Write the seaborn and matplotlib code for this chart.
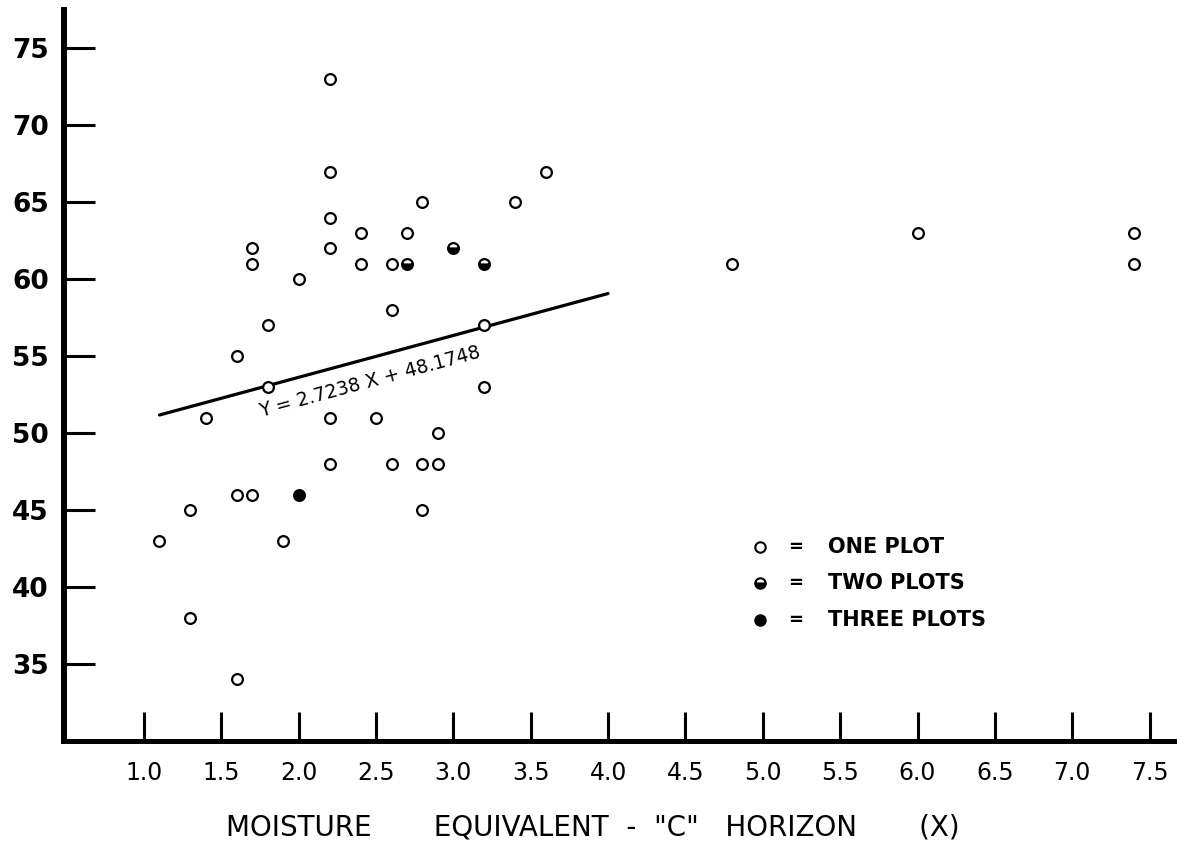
import math
import numpy as np
import matplotlib
matplotlib.use("Agg")
import matplotlib.pyplot as plt
import seaborn as sns

# Observations, grouped by how many plots share the same point
one_x = [2.2, 2.2, 3.6, 2.2, 2.8, 3.4, 2.4, 2.7, 1.7, 2.2,
         1.7, 2.4, 2.6, 2.0, 2.6, 1.8, 3.2, 1.6, 1.8, 3.2,
         1.4, 2.2, 2.5, 2.9, 2.2, 2.6, 2.8, 2.9, 1.6, 1.7,
         1.3, 2.8, 1.1, 1.9, 1.3, 1.6, 4.8, 6.0, 7.4, 7.4]
one_y = [73, 67, 67, 64, 65, 65, 63, 63, 62, 62,
         61, 61, 61, 60, 58, 57, 57, 55, 53, 53,
         51, 51, 51, 50, 48, 48, 48, 48, 46, 46,
         45, 45, 43, 43, 38, 34, 61, 63, 63, 61]
two_x = [2.7, 3.0, 3.2]
two_y = [61, 62, 61]
three_x = [2.0]
three_y = [46]

# Fitted regression line
slope = 2.7238
intercept = 48.1748
fit_x = [1.1, 4.0]

x_ticks = [1.0, 1.5, 2.0, 2.5, 3.0, 3.5, 4.0, 4.5, 5.0, 5.5, 6.0, 6.5, 7.0, 7.5]
y_ticks = [35, 40, 45, 50, 55, 60, 65, 70, 75]
x_label = 'MOISTURE       EQUIVALENT  -  "C"   HORIZON       (X)'
legend_labels = ["ONE PLOT", "TWO PLOTS", "THREE PLOTS"]

sns.set_style("ticks", {"axes.edgecolor": "black", "xtick.color": "black",
                        "ytick.color": "black", "text.color": "black",
                        "axes.labelcolor": "black"})
plt.rcParams["font.family"] = ["DejaVu Sans"]

fig = plt.figure(figsize=(11.77, 8.43), dpi=100)
ax = fig.add_axes([0.0544, 0.1214, 0.9456, 0.8667])
ax.set_xlim(0.483, 7.677)
ax.set_ylim(30, 77.5)

fit_y = [slope * x + intercept for x in fit_x]
sns.lineplot(x=fit_x, y=fit_y, ax=ax, color="black", linewidth=2.3, zorder=2)

ring = dict(s=60, linewidth=1.6, edgecolor="black", legend=False)
sns.scatterplot(x=one_x, y=one_y, ax=ax, color="white", zorder=3, **ring)
sns.scatterplot(x=three_x, y=three_y, ax=ax, color="black", zorder=3, **ring)
# Half-filled circles: lower half black
ax.plot(two_x, two_y, "o", ls="none", ms=7.75, fillstyle="bottom", mfc="black",
        markerfacecoloralt="white", mec="black", mew=1.6, zorder=4)

# Axes styling
sns.despine(ax=ax)
ax.spines["left"].set_linewidth(4.3)
ax.spines["bottom"].set_linewidth(3.6)
ax.set_xticks(x_ticks)
ax.set_xticklabels([f"{v:.1f}" for v in x_ticks])
ax.set_yticks(y_ticks)
ax.set_yticklabels([str(v) for v in y_ticks])
ax.tick_params(axis="x", direction="in", length=21, width=2.2, pad=15, labelsize=17)
ax.tick_params(axis="y", direction="in", length=22, width=2.2, pad=11, labelsize=19)
for lbl in ax.get_yticklabels():
    lbl.set_fontweight("bold")
ax.set_xlabel("")
ax.set_ylabel("")

# Equation written along the fitted line
fig.canvas.draw()
p1 = ax.transData.transform((fit_x[0], fit_y[0]))
p2 = ax.transData.transform((fit_x[1], fit_y[1]))
angle = math.degrees(math.atan2(p2[1] - p1[1], p2[0] - p1[0]))
ax.text(2.46, 53.35, f"Y = {slope} X + {intercept}", rotation=angle,
        rotation_mode="anchor", ha="center", va="center", fontsize=13.5)

# Key for the marker types
rows = [0.2651, 0.2158, 0.1652]
ax.plot([0.6253], [rows[0]], "o", transform=ax.transAxes, ms=7.5, mfc="white",
        mec="black", mew=1.5, clip_on=False)
ax.plot([0.6253], [rows[1]], "o", transform=ax.transAxes, ms=7.5, fillstyle="bottom",
        mfc="black", markerfacecoloralt="white", mec="black", mew=1.5, clip_on=False)
ax.plot([0.6253], [rows[2]], "o", transform=ax.transAxes, ms=7.5, mfc="black",
        mec="black", mew=1.5, clip_on=False)
for r, text in zip(rows, legend_labels):
    ax.text(0.657, r, "=", transform=ax.transAxes, ha="center", va="center",
            fontsize=13, fontweight="bold")
    ax.text(0.6864, r, text, transform=ax.transAxes, ha="left", va="center",
            fontsize=15, fontweight="bold")

fig.text(0.504, 0.0178, x_label, ha="center", va="center", fontsize=20)

fig.savefig("out.png", dpi=100)
